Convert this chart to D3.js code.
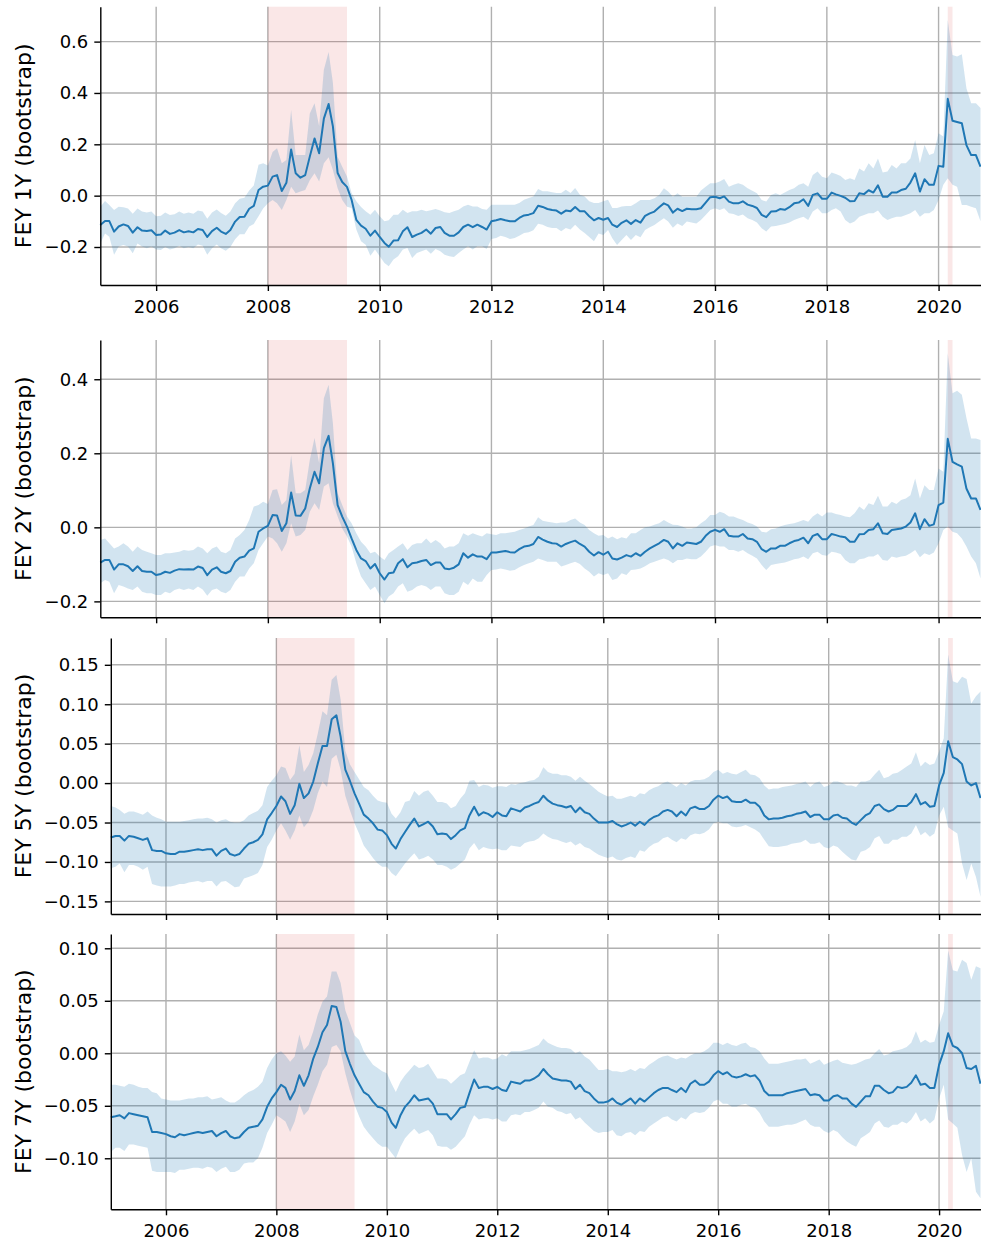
<!DOCTYPE html>
<html>
<head>
<meta charset="utf-8">
<script src="https://cdn.jsdelivr.net/npm/d3@7"></script>
<style>
  body { margin: 0; background: #fff; }
  text { font-family: "DejaVu Sans", sans-serif; }
</style>
</head>
<body>
<div id="chart"></div>
<script>
// Monthly observations, Jan 2005 .. Oct 2020 (one row per year).
const startMonth = new Date(2005, 0, 1);
const endMonth = new Date(2020, 9, 1);

const yearTicks = [2006, 2008, 2010, 2012, 2014, 2016, 2018, 2020];

const recessions = [
    ["2008-01-01", "2009-06-01"],
    ["2020-03-01", "2020-04-01"]
];

// FEY 1Y
const fey1 = [
    -0.114,-0.099,-0.099,-0.140,-0.120,-0.112,-0.118,-0.144,-0.123,-0.136,-0.138,-0.135,
    -0.153,-0.151,-0.136,-0.149,-0.144,-0.134,-0.143,-0.139,-0.143,-0.130,-0.134,-0.161,
    -0.138,-0.125,-0.140,-0.149,-0.134,-0.101,-0.083,-0.082,-0.051,-0.040,0.022,0.035,
    0.039,0.074,0.080,0.018,0.050,0.180,0.087,0.070,0.080,0.152,0.223,0.165,
    0.300,0.357,0.270,0.088,0.053,0.034,-0.016,-0.094,-0.117,-0.129,-0.156,-0.136,
    -0.161,-0.184,-0.199,-0.175,-0.174,-0.139,-0.123,-0.161,-0.152,-0.145,-0.132,-0.148,
    -0.126,-0.122,-0.145,-0.156,-0.156,-0.143,-0.122,-0.113,-0.123,-0.113,-0.122,-0.132,
    -0.100,-0.096,-0.091,-0.096,-0.100,-0.100,-0.087,-0.077,-0.074,-0.068,-0.039,-0.044,
    -0.052,-0.056,-0.058,-0.070,-0.058,-0.061,-0.044,-0.061,-0.061,-0.080,-0.096,-0.087,
    -0.094,-0.087,-0.113,-0.122,-0.106,-0.096,-0.110,-0.095,-0.105,-0.079,-0.069,-0.062,
    -0.045,-0.030,-0.038,-0.066,-0.051,-0.060,-0.051,-0.053,-0.053,-0.049,-0.027,-0.006,
    -0.004,-0.010,-0.003,-0.023,-0.030,-0.030,-0.022,-0.035,-0.040,-0.048,-0.075,-0.084,
    -0.062,-0.061,-0.052,-0.055,-0.045,-0.030,-0.027,-0.014,-0.040,0.003,0.009,-0.012,
    -0.012,0.012,0.005,-0.001,-0.008,-0.022,-0.021,0.009,0.006,0.021,0.012,0.040,
    -0.004,-0.004,0.012,0.012,0.022,0.027,0.051,0.087,0.016,0.064,0.042,0.042,
    0.116,0.113,0.377,0.292,0.287,0.282,0.197,0.158,0.158,0.113
];
const fey1Hi = [
    -0.043,-0.021,-0.036,-0.056,-0.043,-0.045,-0.050,-0.070,-0.050,-0.062,-0.066,-0.062,
    -0.080,-0.078,-0.066,-0.075,-0.072,-0.062,-0.070,-0.066,-0.070,-0.058,-0.062,-0.090,
    -0.066,-0.054,-0.068,-0.078,-0.062,-0.030,-0.012,-0.008,0.020,0.040,0.120,0.126,
    0.117,0.170,0.185,0.126,0.139,0.334,0.158,0.158,0.158,0.320,0.360,0.270,
    0.490,0.560,0.440,0.152,0.113,0.075,0.010,-0.022,-0.044,-0.061,-0.074,-0.055,
    -0.080,-0.100,-0.096,-0.074,-0.074,-0.055,-0.068,-0.061,-0.061,-0.055,-0.061,-0.057,
    -0.052,-0.058,-0.065,-0.068,-0.061,-0.055,-0.042,-0.035,-0.042,-0.042,-0.052,-0.055,
    -0.035,-0.035,-0.035,-0.035,-0.035,-0.035,-0.029,-0.016,-0.009,-0.003,0.026,0.017,
    0.017,0.013,0.010,0.010,0.023,0.010,0.030,0.004,-0.003,-0.022,-0.029,-0.029,
    -0.022,-0.016,-0.048,-0.048,-0.042,-0.040,-0.040,-0.030,-0.017,-0.017,-0.017,-0.010,
    0.003,0.029,0.016,-0.004,0.009,-0.004,-0.004,-0.004,-0.004,0.020,0.035,0.048,
    0.048,0.055,0.065,0.035,0.042,0.048,0.042,0.029,0.019,0.009,-0.017,-0.023,
    0.003,0.009,0.003,0.012,0.022,0.029,0.042,0.048,0.035,0.080,0.094,0.074,
    0.068,0.090,0.084,0.077,0.061,0.068,0.061,0.106,0.094,0.126,0.106,0.145,
    0.090,0.094,0.119,0.106,0.126,0.126,0.145,0.217,0.126,0.197,0.158,0.165,
    0.243,0.230,0.684,0.548,0.542,0.551,0.418,0.360,0.360,0.341
];
const fey1Lo = [
    -0.186,-0.147,-0.160,-0.230,-0.198,-0.192,-0.198,-0.224,-0.186,-0.198,-0.205,-0.198,
    -0.210,-0.212,-0.200,-0.210,-0.205,-0.195,-0.205,-0.200,-0.205,-0.190,-0.195,-0.230,
    -0.205,-0.190,-0.205,-0.215,-0.200,-0.170,-0.150,-0.150,-0.120,-0.110,-0.080,-0.050,
    -0.030,-0.017,-0.030,-0.056,-0.017,0.035,0.009,0.016,0.022,0.060,0.087,0.055,
    0.126,0.150,0.100,0.029,-0.017,-0.043,-0.048,-0.132,-0.178,-0.191,-0.234,-0.210,
    -0.236,-0.262,-0.275,-0.249,-0.236,-0.210,-0.204,-0.243,-0.223,-0.217,-0.210,-0.226,
    -0.208,-0.217,-0.230,-0.236,-0.239,-0.223,-0.210,-0.197,-0.210,-0.197,-0.197,-0.208,
    -0.169,-0.165,-0.156,-0.161,-0.169,-0.165,-0.156,-0.145,-0.143,-0.135,-0.109,-0.113,
    -0.122,-0.126,-0.126,-0.139,-0.126,-0.132,-0.113,-0.132,-0.145,-0.161,-0.178,-0.147,
    -0.153,-0.134,-0.166,-0.192,-0.173,-0.153,-0.173,-0.153,-0.162,-0.134,-0.123,-0.114,
    -0.101,-0.088,-0.101,-0.125,-0.108,-0.118,-0.101,-0.105,-0.108,-0.095,-0.075,-0.056,
    -0.049,-0.056,-0.049,-0.069,-0.071,-0.079,-0.073,-0.088,-0.095,-0.105,-0.127,-0.140,
    -0.120,-0.118,-0.114,-0.110,-0.105,-0.095,-0.088,-0.082,-0.095,-0.062,-0.049,-0.069,
    -0.069,-0.056,-0.049,-0.062,-0.095,-0.108,-0.101,-0.082,-0.075,-0.069,-0.069,-0.058,
    -0.082,-0.095,-0.088,-0.082,-0.082,-0.075,-0.069,-0.056,-0.082,-0.069,-0.069,-0.056,
    -0.017,0.042,0.068,0.042,0.035,-0.036,-0.036,-0.043,-0.049,-0.100
];

// FEY 2Y
const fey2 = [
    -0.095,-0.088,-0.088,-0.114,-0.100,-0.100,-0.105,-0.118,-0.105,-0.118,-0.120,-0.120,
    -0.129,-0.126,-0.120,-0.123,-0.117,-0.113,-0.114,-0.113,-0.114,-0.106,-0.110,-0.129,
    -0.114,-0.108,-0.120,-0.124,-0.118,-0.093,-0.082,-0.079,-0.063,-0.057,-0.012,-0.003,
    0.004,0.033,0.032,-0.010,0.011,0.094,0.032,0.031,0.051,0.105,0.150,0.119,
    0.214,0.247,0.173,0.060,0.029,0.002,-0.030,-0.061,-0.084,-0.091,-0.111,-0.099,
    -0.124,-0.141,-0.124,-0.122,-0.097,-0.086,-0.108,-0.097,-0.095,-0.091,-0.088,-0.102,
    -0.095,-0.095,-0.111,-0.113,-0.109,-0.100,-0.070,-0.082,-0.073,-0.079,-0.079,-0.086,
    -0.068,-0.068,-0.066,-0.064,-0.067,-0.068,-0.059,-0.052,-0.050,-0.045,-0.026,-0.033,
    -0.039,-0.043,-0.044,-0.052,-0.045,-0.040,-0.036,-0.045,-0.052,-0.066,-0.076,-0.067,
    -0.074,-0.066,-0.084,-0.087,-0.082,-0.075,-0.079,-0.070,-0.077,-0.066,-0.057,-0.050,
    -0.043,-0.034,-0.039,-0.057,-0.043,-0.050,-0.041,-0.043,-0.045,-0.039,-0.023,-0.012,
    -0.007,-0.012,-0.005,-0.023,-0.025,-0.025,-0.018,-0.030,-0.032,-0.039,-0.059,-0.066,
    -0.057,-0.057,-0.050,-0.050,-0.043,-0.037,-0.034,-0.028,-0.043,-0.023,-0.018,-0.032,
    -0.032,-0.018,-0.021,-0.025,-0.027,-0.039,-0.039,-0.019,-0.018,-0.007,-0.005,0.011,
    -0.016,-0.018,-0.007,-0.005,-0.003,0.002,0.013,0.038,-0.005,0.022,0.004,0.008,
    0.060,0.067,0.239,0.177,0.170,0.164,0.105,0.078,0.078,0.047
];
const fey2Hi = [
    -0.034,-0.030,-0.043,-0.057,-0.052,-0.043,-0.052,-0.066,-0.052,-0.061,-0.066,-0.070,
    -0.075,-0.075,-0.070,-0.070,-0.068,-0.066,-0.061,-0.063,-0.061,-0.052,-0.057,-0.070,
    -0.057,-0.052,-0.066,-0.070,-0.061,-0.030,-0.021,-0.007,0.020,0.056,0.060,0.069,
    0.063,0.101,0.103,0.060,0.074,0.195,0.092,0.092,0.101,0.182,0.241,0.173,
    0.349,0.385,0.281,0.092,0.060,0.029,0.011,-0.016,-0.039,-0.052,-0.070,-0.066,
    -0.079,-0.088,-0.070,-0.061,-0.052,-0.043,-0.061,-0.048,-0.043,-0.043,-0.030,-0.043,
    -0.034,-0.043,-0.057,-0.052,-0.052,-0.043,-0.016,-0.023,-0.016,-0.021,-0.025,-0.016,
    -0.019,-0.021,-0.016,-0.016,-0.014,-0.012,-0.007,-0.003,0.002,0.006,0.027,0.018,
    0.015,0.013,0.011,0.013,0.013,0.020,0.024,0.013,0.006,-0.007,-0.016,-0.023,
    -0.021,-0.030,-0.025,-0.032,-0.027,-0.030,-0.016,-0.016,-0.007,0.000,0.002,0.007,
    0.011,0.020,0.013,0.007,0.006,0.002,-0.003,-0.003,0.000,0.011,0.020,0.033,
    0.033,0.042,0.038,0.029,0.029,0.024,0.020,0.013,0.009,0.002,-0.012,-0.014,
    -0.005,-0.003,0.002,0.006,0.009,0.011,0.015,0.020,0.015,0.029,0.038,0.029,
    0.040,0.040,0.036,0.033,0.029,0.027,0.038,0.056,0.047,0.065,0.060,0.085,
    0.056,0.056,0.069,0.063,0.074,0.078,0.087,0.132,0.078,0.114,0.101,0.101,
    0.159,0.150,0.470,0.362,0.369,0.358,0.295,0.240,0.240,0.236
];
const fey2Lo = [
    -0.151,-0.142,-0.147,-0.178,-0.156,-0.160,-0.165,-0.169,-0.160,-0.174,-0.178,-0.178,
    -0.183,-0.183,-0.174,-0.178,-0.169,-0.165,-0.169,-0.165,-0.169,-0.160,-0.168,-0.185,
    -0.169,-0.165,-0.174,-0.178,-0.169,-0.147,-0.133,-0.133,-0.111,-0.097,-0.061,-0.043,
    -0.025,-0.030,-0.043,-0.066,-0.043,0.011,-0.025,-0.021,-0.007,0.042,0.065,0.047,
    0.110,0.119,0.065,0.029,-0.003,-0.025,-0.052,-0.097,-0.133,-0.151,-0.169,-0.160,
    -0.183,-0.205,-0.187,-0.178,-0.160,-0.151,-0.174,-0.169,-0.160,-0.156,-0.160,-0.169,
    -0.160,-0.160,-0.178,-0.183,-0.183,-0.174,-0.147,-0.156,-0.138,-0.147,-0.147,-0.129,
    -0.115,-0.114,-0.111,-0.114,-0.117,-0.115,-0.108,-0.102,-0.097,-0.093,-0.084,-0.088,
    -0.093,-0.093,-0.093,-0.106,-0.102,-0.097,-0.093,-0.099,-0.111,-0.120,-0.133,-0.124,
    -0.129,-0.124,-0.142,-0.138,-0.124,-0.129,-0.115,-0.114,-0.111,-0.105,-0.097,-0.093,
    -0.088,-0.084,-0.088,-0.097,-0.088,-0.088,-0.084,-0.086,-0.086,-0.079,-0.066,-0.052,
    -0.048,-0.052,-0.052,-0.061,-0.061,-0.066,-0.061,-0.070,-0.077,-0.084,-0.102,-0.115,
    -0.102,-0.099,-0.097,-0.095,-0.091,-0.086,-0.084,-0.079,-0.086,-0.070,-0.066,-0.075,
    -0.077,-0.066,-0.068,-0.072,-0.088,-0.097,-0.097,-0.086,-0.084,-0.079,-0.079,-0.072,
    -0.088,-0.090,-0.079,-0.082,-0.079,-0.077,-0.070,-0.061,-0.081,-0.070,-0.075,-0.068,
    -0.043,-0.007,0.002,-0.012,-0.016,-0.030,-0.052,-0.079,-0.097,-0.138
];

// FEY 5Y
const fey5 = [
    -0.069,-0.067,-0.067,-0.073,-0.067,-0.068,-0.070,-0.072,-0.070,-0.085,-0.086,-0.086,
    -0.089,-0.090,-0.090,-0.087,-0.087,-0.086,-0.085,-0.084,-0.085,-0.084,-0.084,-0.092,
    -0.086,-0.083,-0.090,-0.092,-0.090,-0.083,-0.077,-0.075,-0.072,-0.065,-0.046,-0.038,
    -0.029,-0.017,-0.023,-0.039,-0.028,-0.001,-0.019,-0.013,0.002,0.025,0.047,0.047,
    0.081,0.086,0.059,0.017,0.003,-0.013,-0.026,-0.040,-0.045,-0.051,-0.059,-0.060,
    -0.066,-0.077,-0.083,-0.071,-0.062,-0.053,-0.045,-0.055,-0.052,-0.049,-0.055,-0.065,
    -0.064,-0.065,-0.071,-0.066,-0.060,-0.057,-0.041,-0.030,-0.041,-0.037,-0.039,-0.043,
    -0.037,-0.041,-0.042,-0.032,-0.034,-0.036,-0.031,-0.029,-0.026,-0.024,-0.016,-0.022,
    -0.026,-0.028,-0.029,-0.031,-0.029,-0.037,-0.031,-0.037,-0.039,-0.045,-0.050,-0.050,
    -0.050,-0.048,-0.052,-0.055,-0.053,-0.050,-0.054,-0.049,-0.053,-0.047,-0.043,-0.041,
    -0.036,-0.034,-0.036,-0.042,-0.036,-0.041,-0.032,-0.030,-0.033,-0.033,-0.029,-0.021,
    -0.016,-0.019,-0.017,-0.023,-0.024,-0.024,-0.021,-0.025,-0.025,-0.030,-0.041,-0.046,
    -0.045,-0.045,-0.044,-0.042,-0.041,-0.039,-0.038,-0.036,-0.043,-0.040,-0.040,-0.046,
    -0.046,-0.041,-0.040,-0.044,-0.045,-0.050,-0.053,-0.047,-0.041,-0.038,-0.029,-0.027,
    -0.033,-0.036,-0.034,-0.029,-0.029,-0.029,-0.024,-0.014,-0.027,-0.024,-0.030,-0.029,
    -0.003,0.013,0.053,0.033,0.030,0.024,0.002,-0.003,0.000,-0.019
];
const fey5Hi = [
    -0.029,-0.031,-0.034,-0.039,-0.036,-0.036,-0.038,-0.040,-0.036,-0.041,-0.044,-0.046,
    -0.049,-0.049,-0.049,-0.049,-0.048,-0.047,-0.046,-0.045,-0.045,-0.044,-0.046,-0.050,
    -0.047,-0.046,-0.049,-0.050,-0.050,-0.047,-0.041,-0.038,-0.035,-0.028,-0.005,0.003,
    0.010,0.021,0.019,0.004,0.012,0.048,0.014,0.023,0.038,0.063,0.091,0.086,
    0.131,0.137,0.106,0.041,0.024,0.014,0.005,-0.005,-0.009,-0.016,-0.022,-0.024,
    -0.025,-0.039,-0.045,-0.037,-0.024,-0.022,-0.010,-0.016,-0.011,-0.009,-0.016,-0.024,
    -0.024,-0.026,-0.032,-0.029,-0.020,-0.013,0.003,0.004,-0.005,-0.002,-0.003,-0.006,
    -0.004,-0.004,-0.005,-0.001,-0.002,0.000,0.001,0.003,0.004,0.008,0.020,0.014,
    0.012,0.012,0.010,0.010,0.008,0.003,0.008,0.003,-0.001,-0.006,-0.011,-0.014,
    -0.017,-0.016,-0.020,-0.020,-0.018,-0.016,-0.018,-0.013,-0.014,-0.009,-0.006,-0.004,
    0.000,0.002,-0.001,-0.005,0.000,-0.003,0.002,0.004,0.004,0.005,0.008,0.014,
    0.017,0.012,0.014,0.012,0.011,0.014,0.017,0.011,0.010,0.006,-0.003,-0.008,
    -0.007,-0.007,-0.005,-0.004,-0.003,-0.001,0.000,0.002,-0.005,0.000,0.002,-0.005,
    -0.003,0.002,0.002,0.000,-0.003,-0.003,-0.005,0.002,0.002,0.004,0.011,0.017,
    0.006,0.008,0.012,0.013,0.017,0.021,0.025,0.039,0.021,0.027,0.023,0.025,
    0.040,0.057,0.163,0.129,0.127,0.135,0.132,0.101,0.110,0.116
];
const fey5Lo = [
    -0.108,-0.106,-0.102,-0.113,-0.104,-0.104,-0.106,-0.110,-0.106,-0.128,-0.130,-0.131,
    -0.131,-0.131,-0.130,-0.128,-0.128,-0.126,-0.125,-0.124,-0.126,-0.124,-0.124,-0.131,
    -0.125,-0.124,-0.128,-0.132,-0.131,-0.121,-0.119,-0.117,-0.114,-0.104,-0.081,-0.072,
    -0.060,-0.051,-0.060,-0.072,-0.060,-0.041,-0.056,-0.049,-0.034,-0.013,0.002,-0.005,
    0.031,0.036,0.017,-0.016,-0.034,-0.051,-0.064,-0.079,-0.087,-0.095,-0.102,-0.106,
    -0.106,-0.114,-0.118,-0.110,-0.102,-0.095,-0.089,-0.097,-0.095,-0.092,-0.097,-0.104,
    -0.104,-0.106,-0.110,-0.107,-0.102,-0.097,-0.083,-0.076,-0.085,-0.081,-0.083,-0.084,
    -0.083,-0.085,-0.085,-0.079,-0.080,-0.081,-0.076,-0.074,-0.073,-0.070,-0.064,-0.068,
    -0.071,-0.072,-0.074,-0.076,-0.074,-0.079,-0.076,-0.081,-0.083,-0.087,-0.091,-0.093,
    -0.095,-0.093,-0.097,-0.098,-0.095,-0.093,-0.095,-0.085,-0.087,-0.081,-0.077,-0.075,
    -0.070,-0.068,-0.072,-0.075,-0.070,-0.072,-0.066,-0.064,-0.065,-0.063,-0.059,-0.051,
    -0.049,-0.051,-0.051,-0.055,-0.056,-0.055,-0.053,-0.056,-0.059,-0.063,-0.072,-0.080,
    -0.081,-0.081,-0.080,-0.079,-0.077,-0.076,-0.075,-0.072,-0.077,-0.077,-0.075,-0.081,
    -0.083,-0.079,-0.081,-0.087,-0.092,-0.097,-0.098,-0.087,-0.085,-0.081,-0.070,-0.067,
    -0.077,-0.077,-0.072,-0.072,-0.068,-0.068,-0.064,-0.053,-0.066,-0.062,-0.068,-0.064,
    -0.041,-0.030,-0.056,-0.060,-0.064,-0.102,-0.123,-0.102,-0.119,-0.144
];

// FEY 7Y
const fey7 = [
    -0.061,-0.060,-0.059,-0.062,-0.057,-0.058,-0.059,-0.060,-0.061,-0.075,-0.075,-0.076,
    -0.077,-0.079,-0.080,-0.077,-0.078,-0.077,-0.076,-0.075,-0.076,-0.075,-0.074,-0.079,
    -0.076,-0.074,-0.079,-0.081,-0.080,-0.075,-0.071,-0.070,-0.069,-0.063,-0.051,-0.043,
    -0.037,-0.030,-0.033,-0.044,-0.036,-0.021,-0.031,-0.021,-0.005,0.006,0.020,0.027,
    0.045,0.044,0.030,0.002,-0.010,-0.021,-0.029,-0.037,-0.040,-0.046,-0.051,-0.052,
    -0.056,-0.066,-0.071,-0.059,-0.051,-0.046,-0.040,-0.045,-0.044,-0.043,-0.048,-0.058,
    -0.058,-0.058,-0.063,-0.058,-0.052,-0.051,-0.038,-0.025,-0.033,-0.032,-0.032,-0.034,
    -0.032,-0.035,-0.036,-0.027,-0.028,-0.029,-0.026,-0.026,-0.024,-0.021,-0.015,-0.020,
    -0.024,-0.025,-0.026,-0.026,-0.027,-0.034,-0.030,-0.036,-0.038,-0.043,-0.047,-0.047,
    -0.046,-0.043,-0.047,-0.049,-0.046,-0.043,-0.048,-0.043,-0.046,-0.042,-0.038,-0.035,
    -0.033,-0.033,-0.035,-0.037,-0.033,-0.037,-0.029,-0.026,-0.030,-0.030,-0.027,-0.021,
    -0.017,-0.020,-0.018,-0.022,-0.023,-0.022,-0.020,-0.022,-0.021,-0.026,-0.036,-0.040,
    -0.040,-0.040,-0.040,-0.038,-0.037,-0.036,-0.035,-0.034,-0.040,-0.039,-0.040,-0.045,
    -0.045,-0.041,-0.040,-0.043,-0.043,-0.048,-0.051,-0.046,-0.041,-0.041,-0.031,-0.031,
    -0.035,-0.038,-0.037,-0.032,-0.033,-0.032,-0.028,-0.021,-0.030,-0.029,-0.033,-0.033,
    -0.011,0.002,0.019,0.007,0.005,0.000,-0.014,-0.015,-0.012,-0.029
];
const fey7Hi = [
    -0.030,-0.030,-0.031,-0.032,-0.029,-0.030,-0.032,-0.033,-0.033,-0.037,-0.038,-0.043,
    -0.044,-0.045,-0.045,-0.045,-0.044,-0.043,-0.043,-0.042,-0.042,-0.041,-0.044,-0.043,
    -0.042,-0.045,-0.047,-0.047,-0.044,-0.040,-0.037,-0.035,-0.032,-0.027,-0.014,-0.006,
    0.000,0.002,-0.002,-0.008,-0.003,0.018,0.003,0.008,0.021,0.037,0.049,0.054,
    0.078,0.078,0.067,0.041,0.029,0.017,0.013,0.002,-0.005,-0.011,-0.014,-0.017,
    -0.019,-0.029,-0.037,-0.027,-0.021,-0.016,-0.011,-0.014,-0.013,-0.010,-0.017,-0.024,
    -0.024,-0.025,-0.029,-0.025,-0.021,-0.019,-0.008,0.003,-0.005,-0.004,-0.004,-0.006,
    -0.005,-0.001,-0.003,0.002,0.002,0.002,0.003,0.004,0.006,0.008,0.014,0.010,
    0.008,0.006,0.005,0.005,0.004,0.000,0.002,-0.003,-0.006,-0.011,-0.016,-0.016,
    -0.015,-0.017,-0.017,-0.018,-0.017,-0.015,-0.017,-0.014,-0.015,-0.011,-0.008,-0.005,
    -0.003,-0.002,-0.004,-0.006,-0.004,-0.005,-0.002,0.000,0.000,0.002,0.005,0.010,
    0.010,0.008,0.010,0.008,0.007,0.009,0.010,0.006,0.005,0.002,-0.005,-0.010,
    -0.010,-0.010,-0.009,-0.008,-0.007,-0.006,-0.006,-0.005,-0.010,-0.008,-0.006,-0.011,
    -0.009,-0.007,-0.006,-0.009,-0.010,-0.011,-0.010,-0.008,-0.006,-0.005,0.000,0.004,
    -0.002,-0.001,0.002,0.003,0.004,0.006,0.010,0.021,0.010,0.013,0.010,0.011,
    0.027,0.040,0.098,0.079,0.078,0.089,0.086,0.070,0.083,0.081
];
const fey7Lo = [
    -0.094,-0.090,-0.090,-0.093,-0.087,-0.087,-0.088,-0.089,-0.090,-0.112,-0.113,-0.113,
    -0.113,-0.113,-0.114,-0.111,-0.111,-0.110,-0.109,-0.109,-0.110,-0.108,-0.109,-0.113,
    -0.110,-0.108,-0.113,-0.113,-0.111,-0.105,-0.104,-0.104,-0.100,-0.090,-0.076,-0.068,
    -0.059,-0.062,-0.065,-0.075,-0.065,-0.048,-0.059,-0.054,-0.041,-0.030,-0.017,-0.011,
    0.006,0.008,0.002,-0.019,-0.035,-0.049,-0.060,-0.070,-0.076,-0.081,-0.086,-0.089,
    -0.089,-0.095,-0.100,-0.089,-0.081,-0.076,-0.072,-0.077,-0.075,-0.073,-0.078,-0.088,
    -0.089,-0.089,-0.092,-0.089,-0.084,-0.079,-0.068,-0.059,-0.063,-0.062,-0.062,-0.063,
    -0.062,-0.065,-0.065,-0.059,-0.058,-0.059,-0.056,-0.056,-0.054,-0.052,-0.046,-0.051,
    -0.052,-0.055,-0.056,-0.058,-0.057,-0.063,-0.061,-0.066,-0.070,-0.074,-0.076,-0.075,
    -0.075,-0.073,-0.078,-0.079,-0.076,-0.075,-0.078,-0.074,-0.075,-0.070,-0.067,-0.064,
    -0.061,-0.060,-0.063,-0.065,-0.061,-0.063,-0.058,-0.056,-0.057,-0.056,-0.052,-0.046,
    -0.044,-0.048,-0.048,-0.051,-0.051,-0.049,-0.048,-0.051,-0.052,-0.057,-0.065,-0.070,
    -0.070,-0.070,-0.069,-0.068,-0.068,-0.067,-0.065,-0.063,-0.068,-0.070,-0.070,-0.074,
    -0.076,-0.073,-0.075,-0.080,-0.084,-0.087,-0.089,-0.081,-0.078,-0.075,-0.067,-0.064,
    -0.070,-0.071,-0.068,-0.068,-0.065,-0.067,-0.063,-0.056,-0.065,-0.062,-0.067,-0.063,
    -0.043,-0.030,-0.063,-0.067,-0.071,-0.097,-0.113,-0.100,-0.132,-0.138
];

const yTicks1 = [-0.2, 0.0, 0.2, 0.4, 0.6];
const yTicks2 = [-0.2, 0.0, 0.2, 0.4];
const yTicks5 = [-0.15, -0.10, -0.05, 0.00, 0.05, 0.10, 0.15];
const yTicks7 = [-0.10, -0.05, 0.00, 0.05, 0.10];

// Layout of the four stacked panels (pixels).
const width = 981;
const height = 1243;
const right = 980.5;
const panels = [
    {label: "FEY 1Y (bootstrap)", mid: fey1, hi: fey1Hi, lo: fey1Lo, ticks: yTicks1, fmt: ".1f",
     domain: [-0.348, 0.736], left: 100.3, top: 6.7, bottom: 285, xLabels: true},
    {label: "FEY 2Y (bootstrap)", mid: fey2, hi: fey2Hi, lo: fey2Lo, ticks: yTicks2, fmt: ".1f",
     domain: [-0.243, 0.506], left: 100.3, top: 340, bottom: 617.3, xLabels: false},
    {label: "FEY 5Y (bootstrap)", mid: fey5, hi: fey5Hi, lo: fey5Lo, ticks: yTicks5, fmt: ".2f",
     domain: [-0.166, 0.184], left: 110.8, top: 638, bottom: 914, xLabels: false},
    {label: "FEY 7Y (bootstrap)", mid: fey7, hi: fey7Hi, lo: fey7Lo, ticks: yTicks7, fmt: ".2f",
     domain: [-0.1486, 0.1136], left: 110.8, top: 934, bottom: 1209.3, xLabels: true}
];

const months = d3.timeMonth.range(startMonth, d3.timeMonth.offset(endMonth, 1));
const parse = d3.timeParse("%Y-%m-%d");

const svg = d3.select("#chart")
    .append("svg")
    .attr("width", width)
    .attr("height", height)
    .attr("viewBox", [0, 0, width, height]);

const gridColor = "#b0b0b0";
const lineColor = "#1f77b4";

panels.forEach(p => {
    const x = d3.scaleTime()
        .domain([startMonth, endMonth])
        .range([p.left, right]);
    const y = d3.scaleLinear()
        .domain(p.domain)
        .range([p.bottom, p.top]);

    const rows = months.map((date, i) => ({date, v: p.mid[i], lo: p.lo[i], hi: p.hi[i]}));
    const g = svg.append("g");

    // Grid lines (below everything else).
    const grid = g.append("g")
        .attr("stroke", gridColor)
        .attr("stroke-width", 1.4);
    grid.selectAll(".hgrid")
        .data(p.ticks)
        .join("line")
        .attr("x1", p.left).attr("x2", right)
        .attr("y1", d => y(d)).attr("y2", d => y(d));
    grid.selectAll(".vgrid")
        .data(yearTicks)
        .join("line")
        .attr("x1", d => x(new Date(d, 0, 1))).attr("x2", d => x(new Date(d, 0, 1)))
        .attr("y1", p.top).attr("y2", p.bottom);

    // Recession shading.
    g.append("g")
        .selectAll("rect")
        .data(recessions)
        .join("rect")
        .attr("x", d => x(parse(d[0])))
        .attr("width", d => x(parse(d[1])) - x(parse(d[0])))
        .attr("y", p.top)
        .attr("height", p.bottom - p.top)
        .attr("fill", "#d62728")
        .attr("fill-opacity", 0.11);

    // Bootstrap band.
    g.append("path")
        .datum(rows)
        .attr("fill", lineColor)
        .attr("fill-opacity", 0.2)
        .attr("d", d3.area()
            .x(d => x(d.date))
            .y0(d => y(d.lo))
            .y1(d => y(d.hi)));

    // Point estimate.
    g.append("path")
        .datum(rows)
        .attr("fill", "none")
        .attr("stroke", lineColor)
        .attr("stroke-width", 2)
        .attr("stroke-linejoin", "round")
        .attr("d", d3.line()
            .x(d => x(d.date))
            .y(d => y(d.v)));

    // Axes: left and bottom spines only.
    const yAxis = g.append("g")
        .attr("transform", `translate(${p.left},0)`)
        .call(d3.axisLeft(y)
            .tickValues(p.ticks)
            .tickFormat(d3.format(p.fmt))
            .tickSize(6)
            .tickPadding(6)
            .tickSizeOuter(0));
    const xAxis = g.append("g")
        .attr("transform", `translate(0,${p.bottom})`)
        .call(d3.axisBottom(x)
            .tickValues(yearTicks.map(d => new Date(d, 0, 1)))
            .tickFormat(p.xLabels ? d3.timeFormat("%Y") : () => "")
            .tickSize(6)
            .tickPadding(9)
            .tickSizeOuter(0));

    [yAxis, xAxis].forEach(a => {
        a.select(".domain").attr("stroke", "#000").attr("stroke-width", 1.4);
        a.selectAll(".tick line").attr("stroke", "#000").attr("stroke-width", 1.4);
        a.selectAll(".tick text")
            .attr("fill", "#000")
            .style("font-size", "18px")
            .style("font-family", '"DejaVu Sans", sans-serif');
    });

    // Axis title.
    g.append("text")
        .attr("transform", `translate(31,${(p.top + p.bottom) / 2}) rotate(-90)`)
        .attr("text-anchor", "middle")
        .style("font-size", "22px")
        .attr("fill", "#000")
        .text(p.label);
});
</script>
</body>
</html>
